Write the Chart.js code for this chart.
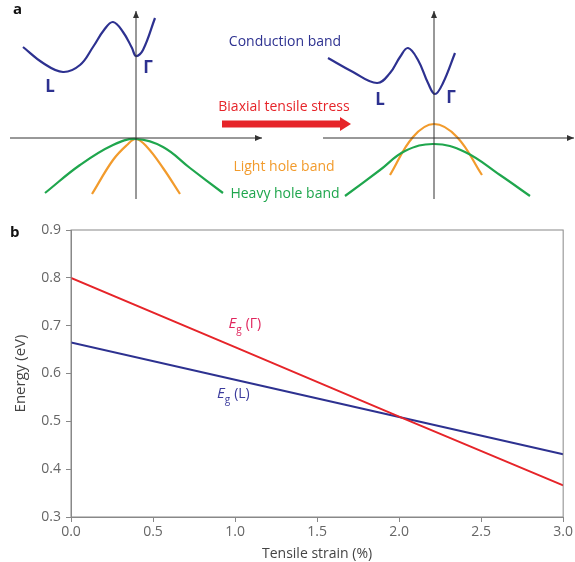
<!DOCTYPE html>
<html>
<head>
<meta charset="utf-8">
<script src="https://cdn.jsdelivr.net/npm/chart.js@4"></script>
<style>
  body { margin: 0; background: #fff; }
  #wrap { position: relative; width: 575px; height: 562px; font-family: 'Open Sans', sans-serif; }
  #bands { position: absolute; left: 0; top: 0; }
  #gaps { position: absolute; left: 0; top: 210px; }
  .tag { position: absolute; font-weight: bold; font-size: 15px; color: #111; }
</style>
</head>
<body>
<div id="wrap">
  <canvas id="bands" width="575" height="210"></canvas>
  <canvas id="gaps" width="575" height="352"></canvas>
  <div class="tag" style="left:13px;top:-2px;">a</div>
  <div class="tag" style="left:10px;top:221px;">b</div>
</div>
<script>
// ---- panel a: schematic band diagrams (k, E) ----
const condUnstrained = [[23, 91], [43, 75], [63, 66], [80, 73], [93, 91], [104, 108], [113, 116], [123, 106], [132, 90], [136, 82], [143, 88], [155, 120]];
const heavyUnstrained = [[45, -55], [80, -27], [113, -7], [136, -1], [163, -9], [190, -30], [223, -55]];
const lightUnstrained = [[92, -56], [113, -22], [127, -7], [136, -1], [147, -9], [163, -30], [180, -56]];
const condStrained = [[328, 80], [353, 66], [377, 55], [390, 65], [400, 81], [408, 90], [418, 78], [428, 55], [435, 44], [443, 55], [455, 85]];
const heavyStrained = [[345, -58], [380, -32], [405, -13], [434, -6], [465, -14], [500, -37], [530, -58]];
const lightStrained = [[390, -37], [413, 1], [434, 14], [457, 1], [482, -37]];
const axisLeftK = [[10, 0], [262, 0]];
const axisLeftE = [[136, -61], [136, 127]];
const axisRightK = [[323, 0], [574, 0]];
const axisRightE = [[434, -61], [434, 127]];
const stressArrow = [[222, 14], [340, 14]];

// ---- panel b: band gap vs tensile strain ----
const strain = [0, 1, 2, 3];
const gammaGap = [0.800, 0.655, 0.510, 0.366];
const lGap = [0.665, 0.587, 0.509, 0.431];
const strainTicks = [0, 0.5, 1, 1.5, 2, 2.5, 3];
const energyTicks = [0.3, 0.4, 0.5, 0.6, 0.7, 0.8, 0.9];

const navy = '#2d3190';
const red = '#e62429';
const orange = '#f29b2c';
const green = '#1fa64d';
const gray = '#333';

const pts = arr => arr.map(p => ({ x: p[0], y: p[1] }));

function curve(data, color) {
  return { data: pts(data), borderColor: color, borderWidth: 2.2, pointRadius: 0, tension: 0.4, fill: false };
}
function axisLine(data) {
  return { data: pts(data), borderColor: gray, borderWidth: 1, pointRadius: 0, arrow: { len: 7, half: 3, ahead: false } };
}

const arrowHeads = {
  id: 'arrowHeads',
  afterDatasetsDraw(chart) {
    const ctx = chart.ctx;
    chart.data.datasets.forEach((ds, i) => {
      if (!ds.arrow) return;
      const els = chart.getDatasetMeta(i).data;
      const a = els[els.length - 2], b = els[els.length - 1];
      const ang = Math.atan2(b.y - a.y, b.x - a.x);
      const tipX = ds.arrow.ahead ? b.x + Math.cos(ang) * ds.arrow.len : b.x;
      const tipY = ds.arrow.ahead ? b.y + Math.sin(ang) * ds.arrow.len : b.y;
      const baseX = tipX - Math.cos(ang) * ds.arrow.len;
      const baseY = tipY - Math.sin(ang) * ds.arrow.len;
      ctx.save();
      ctx.fillStyle = ds.borderColor;
      ctx.beginPath();
      ctx.moveTo(tipX, tipY);
      ctx.lineTo(baseX - Math.sin(ang) * ds.arrow.half, baseY + Math.cos(ang) * ds.arrow.half);
      ctx.lineTo(baseX + Math.sin(ang) * ds.arrow.half, baseY - Math.cos(ang) * ds.arrow.half);
      ctx.closePath();
      ctx.fill();
      ctx.restore();
    });
  }
};

// text labels placed in data coordinates
const bandLabels = [
  { text: 'Conduction band', x: 285, y: 96, color: navy, font: '14px "Open Sans"' },
  { text: 'Biaxial tensile stress', x: 284, y: 31, color: red, font: '14px "Open Sans"' },
  { text: 'Light hole band', x: 284, y: -29, color: orange, font: '14px "Open Sans"' },
  { text: 'Heavy hole band', x: 285, y: -56, color: green, font: '14px "Open Sans"' },
  { text: 'L', x: 50, y: 51, color: navy, font: 'bold 17px "Open Sans"' },
  { text: 'Γ', x: 148, y: 70, color: navy, font: 'bold 17px "Open Sans"' },
  { text: 'L', x: 380, y: 38, color: navy, font: 'bold 17px "Open Sans"' },
  { text: 'Γ', x: 451, y: 40, color: navy, font: 'bold 17px "Open Sans"' }
];

const textLabels = {
  id: 'textLabels',
  afterDraw(chart) {
    const ctx = chart.ctx;
    const xs = chart.scales.x, ys = chart.scales.y;
    ctx.save();
    ctx.textAlign = 'center';
    ctx.textBaseline = 'middle';
    bandLabels.forEach(l => {
      ctx.font = l.font;
      ctx.fillStyle = l.color;
      ctx.fillText(l.text, xs.getPixelForValue(l.x), ys.getPixelForValue(l.y));
    });
    ctx.restore();
  }
};

new Chart(document.getElementById('bands'), {
  type: 'line',
  data: {
    datasets: [
      axisLine(axisLeftK), axisLine(axisLeftE), axisLine(axisRightK), axisLine(axisRightE),
      curve(condUnstrained, navy), curve(heavyUnstrained, green), curve(lightUnstrained, orange),
      curve(condStrained, navy), curve(heavyStrained, green), curve(lightStrained, orange),
      { data: pts(stressArrow), borderColor: red, borderWidth: 7, pointRadius: 0, borderCapStyle: 'butt', arrow: { len: 11, half: 7, ahead: true } }
    ]
  },
  options: {
    responsive: false,
    animation: false,
    layout: { padding: 0 },
    plugins: { legend: { display: false }, tooltip: { enabled: false } },
    scales: {
      x: { type: 'linear', min: 0, max: 575, display: false },
      y: { type: 'linear', min: -72, max: 138, display: false }
    }
  },
  plugins: [arrowHeads, textLabels]
});

// ---- panel b ----
const gapLabels = [
  { x: 0.96, y: 0.705, sym: 'Γ', color: '#e0245c' },
  { x: 0.89, y: 0.559, sym: 'L', color: '#3b3b9c' }
];

const gapText = {
  id: 'gapText',
  afterDraw(chart) {
    const ctx = chart.ctx;
    const xs = chart.scales.x, ys = chart.scales.y;
    const ca = chart.chartArea;
    ctx.save();
    ctx.strokeStyle = '#888';
    ctx.lineWidth = 1;
    ctx.strokeRect(ca.left, ca.top, ca.right - ca.left, ca.bottom - ca.top);
    ctx.textBaseline = 'alphabetic';
    ctx.textAlign = 'left';
    gapLabels.forEach(l => {
      let px = xs.getPixelForValue(l.x);
      const py = ys.getPixelForValue(l.y) + 5;
      ctx.fillStyle = l.color;
      ctx.font = 'italic 15px "Open Sans"';
      ctx.fillText('E', px, py);
      px += ctx.measureText('E').width;
      ctx.font = '10px "Open Sans"';
      ctx.fillText('g', px, py + 5);
      px += ctx.measureText('g').width + 4;
      ctx.font = '14px "Open Sans"';
      ctx.fillText('(' + l.sym + ')', px, py);
    });
    ctx.restore();
  }
};

const tickFont = { family: 'Open Sans', size: 14 };

new Chart(document.getElementById('gaps'), {
  type: 'line',
  data: {
    datasets: [
      { label: 'Eg(Γ)', data: strain.map((s, i) => ({ x: s, y: gammaGap[i] })), borderColor: red, borderWidth: 2, pointRadius: 0, tension: 0 },
      { label: 'Eg(L)', data: strain.map((s, i) => ({ x: s, y: lGap[i] })), borderColor: navy, borderWidth: 2, pointRadius: 0, tension: 0 }
    ]
  },
  options: {
    responsive: false,
    animation: false,
    layout: { padding: { top: 20, right: 8, left: 10, bottom: 0 } },
    plugins: { legend: { display: false }, tooltip: { enabled: false } },
    scales: {
      x: {
        type: 'linear', min: 0, max: 3,
        afterBuildTicks: s => { s.ticks = strainTicks.map(v => ({ value: v })); },
        afterFit: s => { s.height = 45; },
        ticks: { font: tickFont, color: '#666', padding: 2, maxRotation: 0, callback: v => v.toFixed(1) },
        grid: { drawOnChartArea: false, drawTicks: true, tickLength: 5, color: '#888' },
        border: { display: true, color: '#888' },
        title: { display: true, text: 'Tensile strain (%)', color: '#444', font: { family: 'Open Sans', size: 14 }, padding: { top: 0, bottom: 0 } }
      },
      y: {
        type: 'linear', min: 0.3, max: 0.9,
        afterBuildTicks: s => { s.ticks = energyTicks.map(v => ({ value: v })); },
        afterFit: s => { s.width = 61; },
        ticks: { font: tickFont, color: '#666', padding: 5, callback: v => v.toFixed(1) },
        grid: { drawOnChartArea: false, drawTicks: true, tickLength: 5, color: '#888' },
        border: { display: true, color: '#888' },
        title: { display: true, text: 'Energy (eV)', color: '#444', font: { family: 'Open Sans', size: 15 }, padding: { top: 2, bottom: 0 } }
      }
    }
  },
  plugins: [gapText]
});
</script>
</body>
</html>
